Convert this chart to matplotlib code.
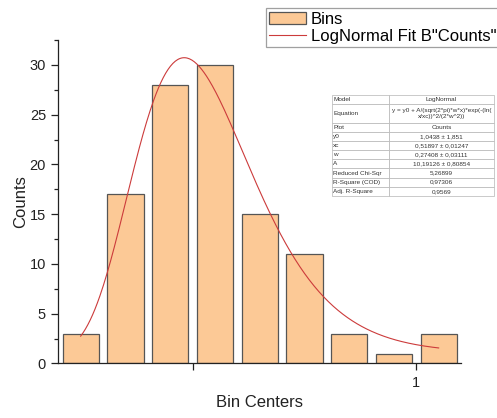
import numpy as np
import matplotlib
matplotlib.use("Agg")
import matplotlib.pyplot as plt
from matplotlib.ticker import MultipleLocator, FixedLocator

plt.rcParams['font.family'] = ['Liberation Sans', 'DejaVu Sans']

# histogram data (bin width 0.1)
bin_centers = [0.25, 0.35, 0.45, 0.55, 0.65, 0.75, 0.85, 0.95, 1.05]
counts = [3, 17, 28, 30, 15, 11, 3, 1, 3]

# LogNormal fit parameters as reported in the fit table
y0 = 1.0438
xc = 0.51897
w = 0.27408
A = 10.19126

table_rows = ["Model", "Equation", "Plot", "y0", "xc", "w", "A",
              "Reduced Chi-Sqr", "R-Square (COD)", "Adj. R-Square"]
table_vals = ["LogNormal",
              "y = y0 + A/(sqrt(2*pi)*w*x)*exp(-(ln(\nx/xc))^2/(2*w^2))",
              "Counts",
              "1,0438 \u00b1 1,851",
              "0,51897 \u00b1 0,01247",
              "0,27408 \u00b1 0,03111",
              "10,19126 \u00b1 0,80854",
              "5,26899",
              "0,97306",
              "0,9569"]

fig = plt.figure(figsize=(4.97, 4.18), dpi=100)
ax = fig.add_axes([0.1173, 0.1304, 0.8103, 0.7739])

bars = ax.bar(bin_centers, counts, width=0.081, color='#fcc996',
              edgecolor='#555555', linewidth=0.9, label='Bins', zorder=2)

xf = np.linspace(bin_centers[0], bin_centers[-1], 300)
yf = y0 + A / (np.sqrt(2 * np.pi) * w * xf) * np.exp(-(np.log(xf / xc)) ** 2 / (2 * w ** 2))
line, = ax.plot(xf, yf, color='#cc3b3b', lw=0.8, label='LogNormal Fit B"Counts"', zorder=3)

ax.set_xlim(0.2, 1.1)
ax.set_ylim(0, 32.5)
ax.spines['top'].set_visible(False)
ax.spines['right'].set_visible(False)
for s in ['left', 'bottom']:
    ax.spines[s].set_linewidth(0.9)
    ax.spines[s].set_color('#222222')

ax.xaxis.set_major_locator(FixedLocator([0.5, 1.0]))
ax.set_xticklabels(['', '1'])
ax.yaxis.set_major_locator(MultipleLocator(5))
ax.yaxis.set_minor_locator(MultipleLocator(2.5))
ax.tick_params(axis='both', which='major', direction='out', length=5, width=0.9,
               labelsize=10.5, colors='#222222')
ax.tick_params(axis='y', which='major', pad=3.8)
ax.tick_params(axis='x', which='major', pad=4)
ax.tick_params(axis='y', which='minor', direction='out', length=3, width=0.9, color='#222222')

ax.set_xlabel('Bin Centers', fontsize=12, color='#222222')
ax.set_ylabel('Counts', fontsize=12, color='#222222')
ax.xaxis.set_label_coords(0.5, -0.097)
ax.yaxis.set_label_coords(-0.075, 0.5)

leg = fig.legend(handles=[bars, line], loc='upper left',
                 bbox_to_anchor=(265.7 / 497, 1 - 8.3 / 418), borderaxespad=0,
                 fontsize=12, frameon=True, fancybox=False, handlelength=2.2,
                 handletextpad=0.3, labelspacing=0.15, borderpad=0.2)
leg.get_frame().set_edgecolor('#888888')
leg.get_frame().set_linewidth(0.9)

# fit result table
tax = fig.add_axes([331.7 / 497, 1 - 196 / 418, (494 - 331.7) / 497, 101 / 418])
tax.axis('off')
cells = [[r, v] for r, v in zip(table_rows, table_vals)]
tbl = tax.table(cellText=cells, cellLoc='center', bbox=[0, 0, 1, 1])
tbl.auto_set_font_size(False)
tbl.set_fontsize(4.6)
for (r, c), cell in tbl.get_celld().items():
    cell.set_height(2 if r == 1 else 1)
    cell.set_width(57.3 if c == 0 else 105)
    cell.set_edgecolor('#b5b5b5')
    cell.set_linewidth(0.5)
    cell.get_text().set_color('#333333')
    if c == 0:
        cell.get_text().set_ha('left')
        cell._loc = 'left'
        cell.PAD = 0.03

fig.savefig('out.png', dpi=100)
